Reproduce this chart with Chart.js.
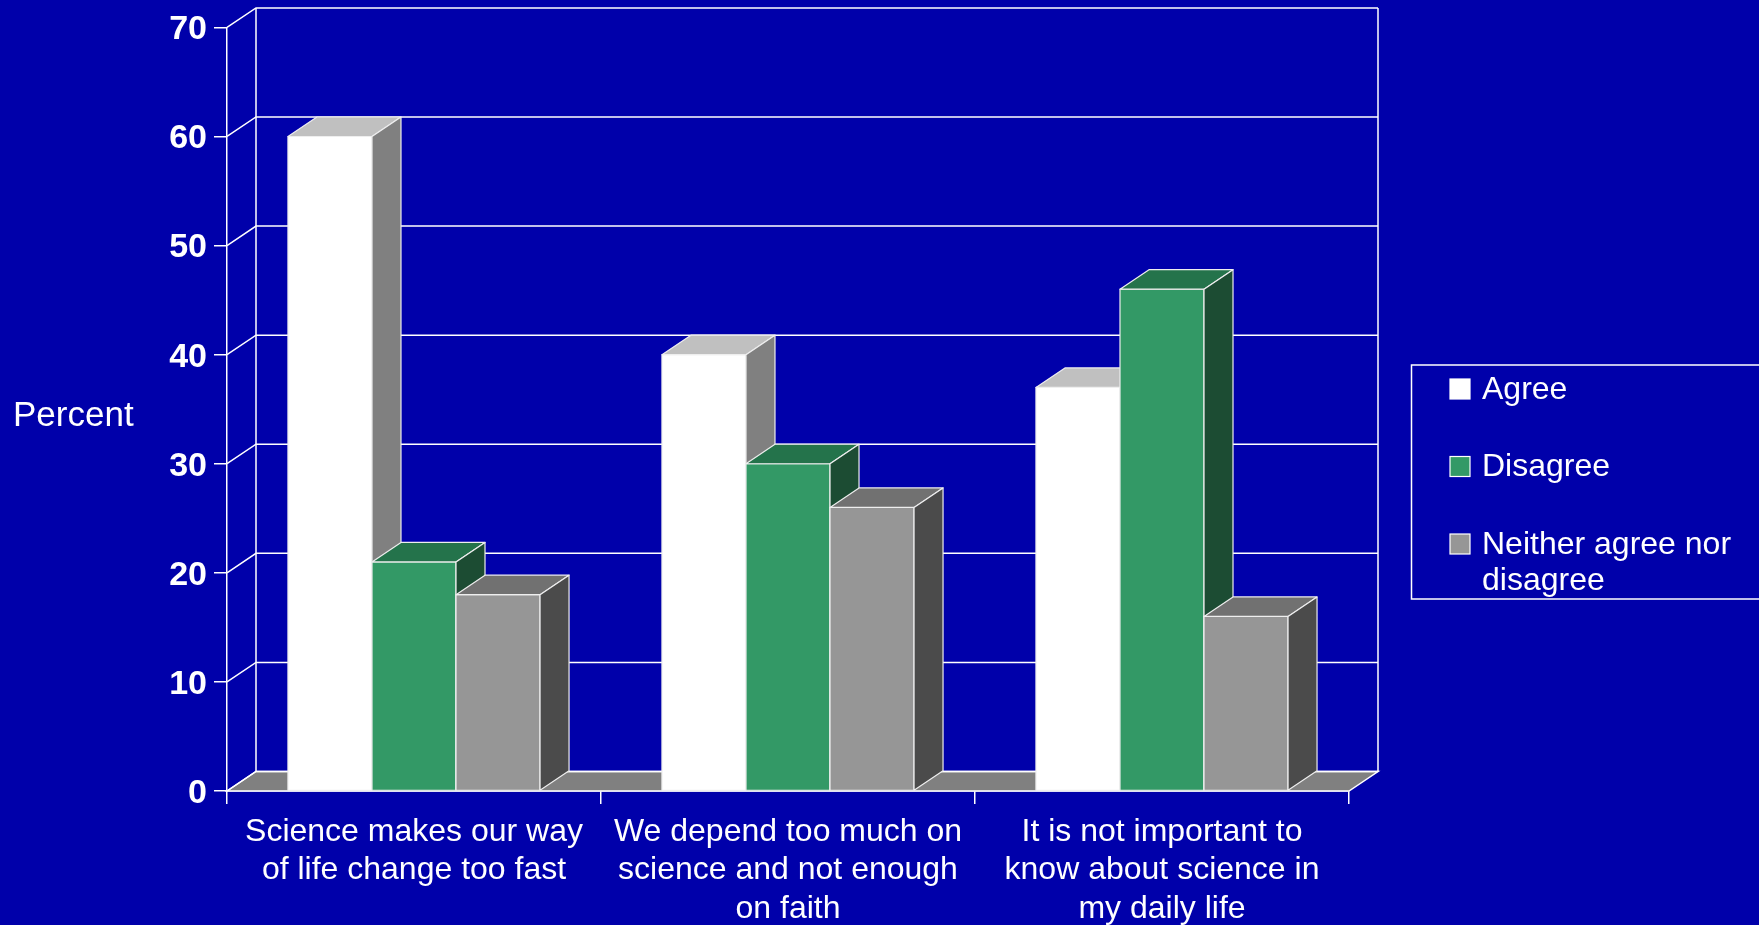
<!DOCTYPE html>
<html>
<head>
<meta charset="utf-8">
<script src="https://cdn.jsdelivr.net/npm/chart.js@4.4.1/dist/chart.umd.min.js"></script>
<style>
  html, body { margin: 0; padding: 0; background: #0000aa; overflow: hidden; }
  #wrap { width: 1759px; height: 925px; }
</style>
</head>
<body>
<div id="wrap"><canvas id="chart"></canvas></div>
<script>
// chart data
const categories = [
  ['Science makes our way', 'of life change too fast'],
  ['We depend too much on', 'science and not enough', 'on faith'],
  ['It is not important to', 'know about science in', 'my daily life']
];
const seriesNames = ['Agree', 'Disagree', 'Neither agree nor disagree'];
const agree = [60, 40, 37];
const disagree = [21, 30, 46];
const neither = [18, 26, 16];
const yTicks = [0, 10, 20, 30, 40, 50, 60, 70];

// front / top / side colours of each series
const faces = [
  { front: '#ffffff', top: '#c0c0c0', side: '#808080' },
  { front: '#339966', top: '#24734b', side: '#1c4c33' },
  { front: '#969696', top: '#717171', side: '#4b4b4b' }
];

const DX = 29, DY = -19.5; // depth of the 3d box

Chart.defaults.font.family = "'Liberation Sans', Arial, sans-serif";
Chart.defaults.color = '#ffffff';

const poly = (ctx, pts, fill) => {
  ctx.beginPath();
  ctx.moveTo(pts[0][0], pts[0][1]);
  for (let i = 1; i < pts.length; i++) ctx.lineTo(pts[i][0], pts[i][1]);
  ctx.closePath();
  if (fill) { ctx.fillStyle = fill; ctx.fill(); }
  ctx.stroke();
};

// back wall, side wall lines and floor
const walls = {
  id: 'walls',
  beforeDatasetsDraw(chart) {
    const { ctx, chartArea: a, scales: { y } } = chart;
    const y0 = y.getPixelForValue(0);
    const yTop = y.getPixelForValue(y.max);
    ctx.save();
    ctx.strokeStyle = '#ffffff';
    ctx.lineWidth = 1.5;
    poly(ctx, [[a.left, y0], [a.right, y0], [a.right + DX, y0 + DY], [a.left + DX, y0 + DY]], '#808080');
    yTicks.forEach(v => {
      const py = y.getPixelForValue(v);
      ctx.beginPath();
      ctx.moveTo(a.left, py);
      ctx.lineTo(a.left + DX, py + DY);
      ctx.lineTo(a.right + DX, py + DY);
      ctx.stroke();
    });
    ctx.beginPath();
    ctx.moveTo(a.left + DX, yTop + DY); ctx.lineTo(a.left + DX, y0 + DY);
    ctx.moveTo(a.right + DX, yTop + DY); ctx.lineTo(a.right + DX, y0 + DY);
    ctx.stroke();
    ctx.restore();
  },
  // redraw bars as boxes, left to right so neighbours cover the side faces
  afterDatasetsDraw(chart) {
    const ctx = chart.ctx;
    ctx.save();
    ctx.strokeStyle = '#eeeeee';
    ctx.lineWidth = 1.2;
    ctx.lineJoin = 'round';
    chart.data.datasets.forEach((ds, i) => {
      const c = faces[i];
      chart.getDatasetMeta(i).data.forEach(bar => {
        const { x, y, base, width } = bar.getProps(['x', 'y', 'base', 'width'], true);
        const l = x - width / 2, r = x + width / 2;
        poly(ctx, [[l, y], [r, y], [r, base], [l, base]], c.front);
        poly(ctx, [[l, y], [r, y], [r + DX, y + DY], [l + DX, y + DY]], c.top);
        poly(ctx, [[r, y], [r + DX, y + DY], [r + DX, base + DY], [r, base]], c.side);
      });
    });
    ctx.restore();
  },
  afterDraw(chart) {
    const ctx = chart.ctx;
    ctx.save();
    ctx.fillStyle = '#ffffff';
    ctx.textBaseline = 'middle';
    ctx.textAlign = 'left';
    ctx.font = "35px 'Liberation Sans', Arial, sans-serif";
    ctx.fillText('Percent', 13, 416);

    // legend
    ctx.strokeStyle = '#ffffff';
    ctx.lineWidth = 1.5;
    ctx.strokeRect(1411.5, 365, 400, 234);
    ctx.font = "32px 'Liberation Sans', Arial, sans-serif";
    let ly = 390;
    seriesNames.forEach((name, i) => {
      ctx.lineWidth = 1.2;
      ctx.fillStyle = faces[i].front;
      ctx.fillRect(1450, ly - 11, 20, 20);
      ctx.strokeRect(1450, ly - 11, 20, 20);
      ctx.fillStyle = '#ffffff';
      const lines = [];
      let cur = '';
      name.split(' ').forEach(w => {
        const t = cur ? cur + ' ' + w : w;
        if (ctx.measureText(t).width > 265 && cur) { lines.push(cur); cur = w; } else cur = t;
      });
      lines.push(cur);
      lines.forEach((ln, k) => ctx.fillText(ln, 1482, ly + k * 36));
      ly += 77.5;
    });
    ctx.restore();
  }
};

new Chart(document.getElementById('chart'), {
  type: 'bar',
  data: {
    labels: categories,
    datasets: [
      { label: seriesNames[0], data: agree, backgroundColor: faces[0].front },
      { label: seriesNames[1], data: disagree, backgroundColor: faces[1].front },
      { label: seriesNames[2], data: neither, backgroundColor: faces[2].front }
    ]
  },
  options: {
    responsive: true,
    maintainAspectRatio: false,
    animation: false,
    devicePixelRatio: 1,
    layout: { padding: { top: 27, right: 410, bottom: 0, left: 0 } },
    datasets: { bar: { categoryPercentage: 0.674, barPercentage: 1 } },
    plugins: { legend: { display: false }, tooltip: { enabled: false } },
    scales: {
      x: {
        grid: { offset: true, drawOnChartArea: false, color: '#ffffff', lineWidth: 1.5, tickLength: 13 },
        border: { color: '#ffffff', width: 1.5 },
        ticks: { color: '#ffffff', font: { size: 32, lineHeight: 1.2 }, padding: 9, maxRotation: 0, autoSkip: false },
        afterFit: s => { s.height = 134; }
      },
      y: {
        min: 0,
        max: 70,
        afterBuildTicks: s => { s.ticks = yTicks.map(v => ({ value: v })); },
        grid: { drawOnChartArea: false, color: '#ffffff', lineWidth: 1.5, tickLength: 13 },
        border: { color: '#ffffff', width: 1.5 },
        ticks: { color: '#ffffff', font: { size: 34, weight: 'bold' }, padding: 7, labelOffset: 2.5 },
        afterFit: s => { s.width = 227; }
      }
    }
  },
  plugins: [walls]
});
</script>
</body>
</html>
